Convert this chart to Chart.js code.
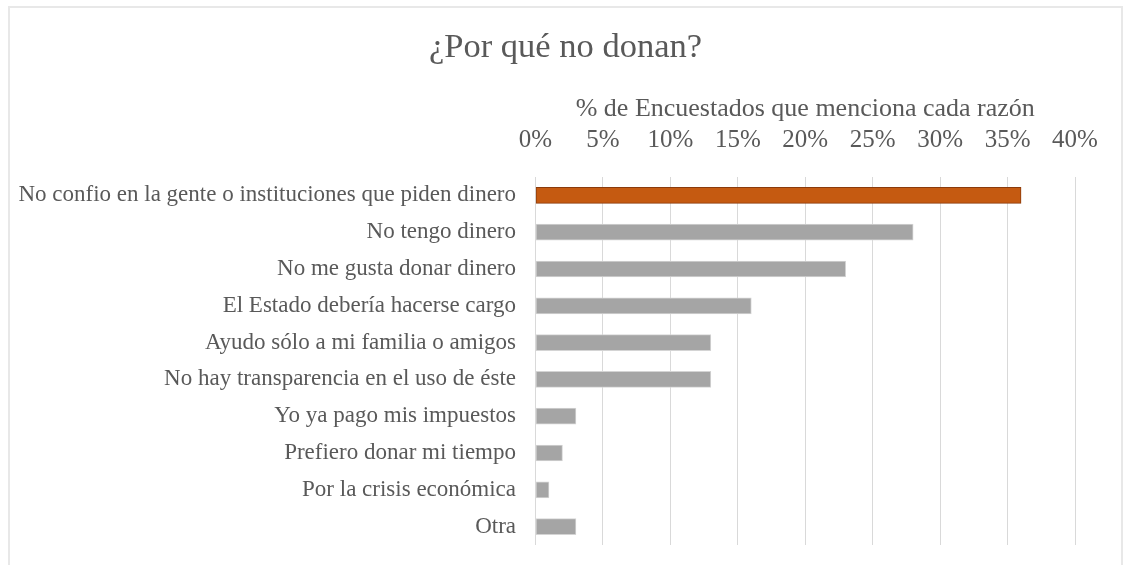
<!DOCTYPE html>
<html>
<head>
<meta charset="utf-8">
<script src="https://cdn.jsdelivr.net/npm/chart.js@4/dist/chart.umd.min.js"></script>
<style>
html, body { margin: 0; padding: 0; background: #fff; overflow: hidden; }
#wrap { position: relative; width: 1123px; height: 565px; }
#frame { position: absolute; left: 8px; top: 6px; width: 1111px; height: 580px; border: 2px solid #e8e8e8; pointer-events: none; }
</style>
</head>
<body>
<div id="wrap">
  <canvas id="chart" width="1123" height="565"></canvas>
  <div id="frame"></div>
</div>
<script>
// datos
var reasons = [
    "No confio en la gente o instituciones que piden dinero",
    "No tengo dinero",
    "No me gusta donar dinero",
    "El Estado debería hacerse cargo",
    "Ayudo sólo a mi familia o amigos",
    "No hay transparencia en el uso de éste",
    "Yo ya pago mis impuestos",
    "Prefiero donar mi tiempo",
    "Por la crisis económica",
    "Otra"
];
var percents = [36, 28, 23, 16, 13, 13, 3, 2, 1, 3];
var xTicks = [0, 5, 10, 15, 20, 25, 30, 35, 40];

var orange = "#c55a11", grey = "#a5a5a5";
var textColor = "#595959";
var serif = "'Liberation Serif', 'Times New Roman', serif";

var ctx = document.getElementById("chart").getContext("2d");
var chart = new Chart(ctx, {
    type: "bar",
    data: {
        labels: reasons,
        datasets: [{
            data: percents,
            backgroundColor: percents.map(function (v, i) { return i === 0 ? orange : grey; }),
            borderColor: percents.map(function (v, i) { return i === 0 ? "#8a3b0c" : "#d4d4d4"; }),
            borderWidth: 1,
            borderSkipped: false,
            barThickness: 16
        }]
    },
    options: {
        indexAxis: "y",
        responsive: false,
        animation: false,
        layout: { padding: { left: 8, right: 0, top: 0, bottom: 20 } },
        plugins: {
            legend: { display: false },
            tooltip: { enabled: false },
            title: {
                display: true,
                text: "¿Por qué no donan?",
                color: textColor,
                font: { family: serif, size: 34.5, weight: "normal" },
                padding: { top: 27, bottom: 6 }
            }
        },
        scales: {
            x: {
                position: "top",
                min: 0,
                max: 40,
                afterBuildTicks: function (scale) {
                    scale.ticks = xTicks.map(function (v) { return { value: v }; });
                },
                afterFit: function (scale) {
                    scale.height = 103.2 - 0.6;
                    scale.paddingLeft = 0;
                    scale.paddingRight = 0;
                },
                ticks: {
                    color: textColor,
                    font: { family: serif, size: 25 },
                    padding: 22,
                    callback: function (v) { return v + "%"; }
                },
                grid: { color: "#d9d9d9", lineWidth: 1, drawTicks: false },
                border: { display: false },
                title: {
                    display: true,
                    text: "% de Encuestados que menciona cada razón",
                    color: textColor,
                    font: { family: serif, size: 26 },
                    padding: { top: 19, bottom: 0 }
                }
            },
            y: {
                afterFit: function (scale) {
                    scale.width = 527.5;
                    scale.paddingTop = 0;
                    scale.paddingBottom = 0;
                },
                ticks: {
                    color: textColor,
                    font: { family: serif, size: 23 },
                    padding: 19.5
                },
                grid: { display: false, drawTicks: false },
                border: { display: false }
            },
            // margen derecho vacio (deja el titulo centrado en todo el ancho)
            spacer: {
                type: "linear",
                position: "right",
                afterFit: function (scale) {
                    scale.width = 48;
                    scale.paddingTop = 0;
                    scale.paddingBottom = 0;
                },
                ticks: { display: false },
                grid: { display: false, drawTicks: false },
                border: { display: false }
            }
        }
    }
});
</script>
</body>
</html>
